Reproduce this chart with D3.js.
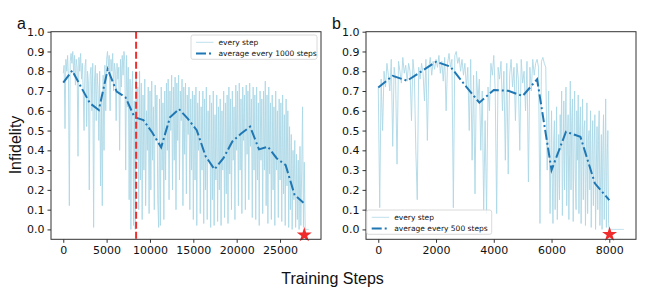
<!DOCTYPE html>
<html>
<head>
<meta charset="utf-8">
<script src="https://cdn.jsdelivr.net/npm/d3@7"></script>
<style>
  html, body { margin: 0; padding: 0; background: #fff; }
  svg text { font-family: "DejaVu Sans", sans-serif; fill: #111; }
</style>
</head>
<body>
<svg id="chart" width="665" height="299"></svg>
<script>
// ---- data ----
const yTicks = [0.0, 0.1, 0.2, 0.3, 0.4, 0.5, 0.6, 0.7, 0.8, 0.9, 1.0];
const xTicksA = [0, 5000, 10000, 15000, 20000, 25000];
const xTicksB = [0, 2000, 4000, 6000, 8000];

// panel a: infidelity sampled every 100 training steps
const everyStepIntervalA = 100;
const everyStepA = [
  0.79, 0.83, 0.51, 0.86, 0.80, 0.88, 0.76, 0.12, 0.85, 0.89,
  0.84, 0.90, 0.78, 0.88, 0.73, 0.86, 0.82, 0.37, 0.87, 0.80,
  0.89, 0.76, 0.84, 0.70, 0.50, 0.82, 0.86, 0.52, 0.80, 0.74,
  0.20, 0.78, 0.82, 0.60, 0.84, 0.01, 0.75, 0.83, 0.55, 0.79,
  0.72, 0.45, 0.80, 0.22, 0.65, 0.12, 0.78, 0.40, 0.83, 0.60,
  0.86, 0.90, 0.82, 0.88, 0.60, 0.86, 0.80, 0.89, 0.70, 0.84,
  0.80, 0.55, 0.84, 0.76, 0.82, 0.40, 0.86, 0.72, 0.88, 0.78,
  0.90, 0.85, 0.30, 0.88, 0.62, 0.82, 0.15, 0.76, 0.00, 0.70,
  0.80, 0.02, 0.65, 0.00, 0.78, 0.35, 0.72, 0.10, 0.80, 0.25,
  0.74, 0.05, 0.68, 0.30, 0.76, 0.12, 0.60, 0.40, 0.72, 0.08,
  0.70, 0.20, 0.75, 0.35, 0.62, 0.10, 0.73, 0.45, 0.68, 0.15,
  0.01, 0.66, 0.02, 0.72, 0.30, 0.64, 0.05, 0.70, 0.25, 0.74,
  0.40, 0.76, 0.15, 0.70, 0.50, 0.78, 0.20, 0.72, 0.35, 0.77,
  0.10, 0.74, 0.45, 0.78, 0.25, 0.70, 0.55, 0.76, 0.12, 0.72,
  0.38, 0.74, 0.18, 0.68, 0.48, 0.72, 0.10, 0.66, 0.30, 0.70,
  0.05, 0.68, 0.25, 0.72, 0.02, 0.64, 0.40, 0.70, 0.08, 0.62,
  0.30, 0.70, 0.03, 0.66, 0.20, 0.72, 0.05, 0.60, 0.35, 0.68,
  0.01, 0.64, 0.15, 0.70, 0.02, 0.58, 0.25, 0.68, 0.04, 0.62,
  0.20, 0.66, 0.02, 0.60, 0.30, 0.70, 0.06, 0.64, 0.18, 0.68,
  0.03, 0.72, 0.28, 0.66, 0.10, 0.70, 0.35, 0.62, 0.05, 0.73,
  0.40, 0.70, 0.12, 0.74, 0.30, 0.66, 0.08, 0.72, 0.45, 0.68,
  0.10, 0.73, 0.38, 0.70, 0.15, 0.74, 0.42, 0.66, 0.06, 0.72,
  0.30, 0.68, 0.05, 0.72, 0.25, 0.64, 0.02, 0.70, 0.35, 0.66,
  0.08, 0.70, 0.30, 0.75, 0.12, 0.68, 0.03, 0.72, 0.28, 0.64,
  0.05, 0.68, 0.20, 0.62, 0.02, 0.70, 0.30, 0.60, 0.06, 0.66,
  0.25, 0.64, 0.04, 0.68, 0.18, 0.58, 0.02, 0.66, 0.22, 0.60,
  0.01, 0.52, 0.10, 0.48, 0.00, 0.40, 0.15, 0.45, 0.01, 0.38,
  0.05, 0.35, 0.00, 0.42, 0.02, 0.30, 0.62, 0.01, 0.34, 0.00,
  0.00, 0.00, 0.00, 0.00
];
const avgStepsA = [0, 1030, 2050, 3080, 4100, 5130, 6160, 7180, 8210, 9240,
  10260, 11290, 12310, 13340, 14360, 15390, 16420, 17440, 18470, 19500,
  20520, 21550, 22570, 23600, 24630, 25650, 26680, 27700];
const avgValuesA = [0.742, 0.803, 0.72, 0.638, 0.604, 0.81, 0.697, 0.668, 0.568, 0.553,
  0.49, 0.415, 0.567, 0.609, 0.56, 0.502, 0.37, 0.304, 0.36, 0.445,
  0.485, 0.52, 0.405, 0.418, 0.359, 0.325, 0.174, 0.135];
const switchStepA = 8400;
const bestA = { step: 27800, value: -0.028 };

// panel b, steps 0-5950: sampled every 50 training steps
const everyStepIntervalB1 = 50;
const everyStepB1 = [
  0.72, 0.11, 0.76, 0.50, 0.80, 0.72, 0.84, 0.78, 0.70, 0.86,
  0.42, 0.82, 0.76, 0.33, 0.85, 0.80, 0.74, 0.87, 0.79, 0.83,
  0.75, 0.84, 0.80, 0.55, 0.86, 0.78, 0.40, 0.15, 0.82, 0.76,
  0.84, 0.79, 0.65, 0.86, 0.45, 0.82, 0.87, 0.78, 0.85, 0.81,
  0.86, 0.82, 0.88, 0.79, 0.85, 0.75, 0.87, 0.60, 0.84, 0.89,
  0.82, 0.86, 0.11, 0.88, 0.90, 0.84, 0.87, 0.80, 0.86, 0.78,
  0.84, 0.72, 0.82, 0.50, 0.86, 0.35, 0.78, 0.18, 0.80, 0.65,
  0.76, 0.40, 0.70, 0.10, 0.55, 0.08, 0.72, 0.60, 0.84, 0.78,
  0.88, 0.70, 0.08, 0.82, 0.76, 0.85, 0.60, 0.80, 0.35, 0.84,
  0.28, 0.78, 0.86, 0.72, 0.82, 0.55, 0.84, 0.76, 0.40, 0.86,
  0.74, 0.80, 0.60, 0.85, 0.24, 0.82, 0.70, 0.86, 0.78, 0.84,
  0.86, 0.82, 0.03, 0.85, 0.87, 0.84, 0.82, 0.30, 0.70, 0.08
];
// panel b, steps 6000-8500: sampled every 25 training steps
const everyStepStartB2 = 6000;
const everyStepIntervalB2 = 25;
const everyStepB2 = [
  0.60, 0.25, 0.03, 0.45, 0.55, 0.10, 0.35, 0.62, 0.05, 0.30,
  0.48, 0.15, 0.58, 0.40, 0.70, 0.07, 0.35, 0.65, 0.20, 0.50,
  0.72, 0.12, 0.45, 0.58, 0.05, 0.38, 0.75, 0.20, 0.55, 0.66,
  0.04, 0.42, 0.70, 0.25, 0.10, 0.60, 0.35, 0.68, 0.08, 0.50,
  0.62, 0.03, 0.40, 0.66, 0.15, 0.50, 0.55, 0.02, 0.30, 0.64,
  0.08, 0.45, 0.50, 0.20, 0.60, 0.01, 0.35, 0.55, 0.12, 0.40,
  0.58, 0.00, 0.30, 0.52, 0.10, 0.45, 0.60, 0.02, 0.25, 0.48,
  0.00, 0.40, 0.58, 0.05, 0.30, 0.66, 0.01, 0.35, 0.50, 0.03,
  0.00, 0.00, 0.00, 0.00, 0.00, 0.00, 0.00, 0.00, 0.00, 0.00,
  0.00, 0.00, 0.00, 0.00, 0.00, 0.00, 0.00, 0.00, 0.00, 0.00,
  0.00
];
const avgStepsB = [0, 500, 1000, 1500, 2000, 2500, 3000, 3500, 4000, 4500,
  5000, 5500, 6000, 6500, 7000, 7500, 8000];
const avgValuesB = [0.718, 0.777, 0.752, 0.80, 0.848, 0.823, 0.73, 0.641, 0.705, 0.701,
  0.675, 0.759, 0.30, 0.494, 0.469, 0.233, 0.148];
const bestB = { step: 8010, value: -0.025 };

// ---- drawing ----
const svg = d3.select("#chart");
const lightBlue = "#add8e6";
const avgBlue = "#1f77b4";
const yDomain = [-0.05, 1.0];

function drawPanel(p) {
  const g = svg.append("g");
  const x = d3.scaleLinear().domain(p.xDomain).range([p.left, p.right]);
  const y = d3.scaleLinear().domain(yDomain).range([p.bottom, p.top]);

  const clipId = "clip-" + p.name;
  svg.append("clipPath").attr("id", clipId).append("rect")
    .attr("x", p.left).attr("y", p.top)
    .attr("width", p.right - p.left).attr("height", p.bottom - p.top);

  const plot = g.append("g").attr("clip-path", `url(#${clipId})`);
  const line = d3.line().x(d => x(d[0])).y(d => y(d[1]));

  const pts = [];
  p.every.forEach(seg => seg.values.forEach((v, i) => pts.push([seg.start + i * seg.interval, v])));
  plot.append("path")
    .attr("d", line(pts))
    .attr("fill", "none")
    .attr("stroke", lightBlue)
    .attr("stroke-width", 0.9);

  plot.append("path")
    .attr("d", line(p.avgSteps.map((s, i) => [s, p.avgValues[i]])))
    .attr("fill", "none")
    .attr("stroke", avgBlue)
    .attr("stroke-width", 2)
    .attr("stroke-dasharray", "10,3,2,3");

  if (p.switchStep != null) {
    plot.append("line")
      .attr("x1", x(p.switchStep)).attr("x2", x(p.switchStep))
      .attr("y1", p.top).attr("y2", p.bottom)
      .attr("stroke", "#f22f2f")
      .attr("stroke-width", 2)
      .attr("stroke-dasharray", "7,3");
  }

  g.append("path")
    .attr("d", d3.symbol().type(d3.symbolStar).size(70)())
    .attr("transform", `translate(${x(p.best.step)},${y(p.best.value)})`)
    .attr("fill", "#ef2b2b");

  // frame
  g.append("rect")
    .attr("x", p.left).attr("y", p.top)
    .attr("width", p.right - p.left).attr("height", p.bottom - p.top)
    .attr("fill", "none").attr("stroke", "#333").attr("stroke-width", 1);

  const yAxis = g.append("g")
    .attr("transform", `translate(${p.left},0)`)
    .call(d3.axisLeft(y).tickValues(yTicks).tickFormat(d3.format(".1f")).tickSize(3.5).tickPadding(3));
  const xAxis = g.append("g")
    .attr("transform", `translate(0,${p.bottom})`)
    .call(d3.axisBottom(x).tickValues(p.xTicks).tickFormat(d3.format("d")).tickSize(3.5).tickPadding(3));
  [yAxis, xAxis].forEach(a => {
    a.select(".domain").remove();
    a.selectAll(".tick line").attr("stroke", "#333");
    a.selectAll(".tick text")
      .style("font-family", "'DejaVu Sans', sans-serif")
      .style("font-size", "11px")
      .attr("fill", "#111");
  });

  // legend
  const lg = g.append("g");
  lg.append("rect")
    .attr("x", p.legend.x).attr("y", p.legend.y)
    .attr("width", p.legend.w).attr("height", 24.3)
    .attr("rx", 2)
    .attr("fill", "#fff").attr("fill-opacity", 0.8)
    .attr("stroke", "#d0d0d0").attr("stroke-width", 0.8);
  const rows = [
    { label: "every step", color: lightBlue, w: 0.8, dash: null, dy: 7.3 },
    { label: p.avgLabel, color: avgBlue, w: 2, dash: "10,3,2,3", dy: 18.4 }
  ];
  rows.forEach(r => {
    const ry = p.legend.y + r.dy;
    const ln = lg.append("line")
      .attr("x1", p.legend.x + 5).attr("x2", p.legend.x + 22.5)
      .attr("y1", ry).attr("y2", ry)
      .attr("stroke", r.color).attr("stroke-width", r.w);
    if (r.dash) ln.attr("stroke-dasharray", r.dash);
    lg.append("text")
      .attr("x", p.legend.x + 27.5).attr("y", ry)
      .attr("dominant-baseline", "central")
      .style("font-size", "7.5px")
      .text(r.label);
  });

  svg.append("text")
    .attr("x", p.tagX).attr("y", 28.5)
    .style("font-family", "'Liberation Sans', Arial, sans-serif")
    .style("font-size", "16px")
    .text(p.name);
}

drawPanel({
  name: "a", left: 51, right: 321, top: 31.7, bottom: 239.3,
  xDomain: [-1415, 29725], xTicks: xTicksA,
  every: [{ start: 0, interval: everyStepIntervalA, values: everyStepA }],
  avgSteps: avgStepsA, avgValues: avgValuesA,
  switchStep: switchStepA, best: bestA,
  avgLabel: "average every 1000 steps",
  legend: { x: 191, y: 35, w: 126 },
  tagX: 17
});

drawPanel({
  name: "b", left: 366, right: 636, top: 31.7, bottom: 239.3,
  xDomain: [-425, 8925], xTicks: xTicksB,
  every: [
    { start: 0, interval: everyStepIntervalB1, values: everyStepB1 },
    { start: everyStepStartB2, interval: everyStepIntervalB2, values: everyStepB2 }
  ],
  avgSteps: avgStepsB, avgValues: avgValuesB,
  switchStep: null, best: bestB,
  avgLabel: "average every 500 steps",
  legend: { x: 366.7, y: 210, w: 125 },
  tagX: 332
});

svg.append("text")
  .attr("transform", "translate(21,145) rotate(-90)")
  .attr("text-anchor", "middle")
  .style("font-family", "'Liberation Sans', Arial, sans-serif")
  .style("font-size", "16px")
  .text("Infidelity");

svg.append("text")
  .attr("x", 332.5).attr("y", 283.5)
  .attr("text-anchor", "middle")
  .style("font-family", "'Liberation Sans', Arial, sans-serif")
  .style("font-size", "16px")
  .text("Training Steps");
</script>
</body>
</html>
